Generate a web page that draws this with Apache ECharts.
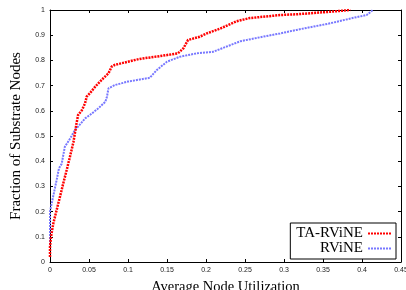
<!DOCTYPE html>
<html>
<head>
<meta charset="utf-8">
<script src="https://cdn.jsdelivr.net/npm/echarts@6/dist/echarts.min.js"></script>
<style>
  html, body { margin: 0; padding: 0; background: #fff; }
  #chart { width: 406px; height: 290px; }
</style>
</head>
<body>
<div id="chart"></div>
<script>
// CDF of average node utilization
const taRvineX = [0, 0, 0.0013, 0.0043, 0.0085, 0.0128, 0.017, 0.0214, 0.0256, 0.03, 0.034, 0.036, 0.041, 0.045, 0.047, 0.051, 0.058, 0.066, 0.075, 0.079, 0.083, 0.1, 0.115, 0.141, 0.164, 0.171, 0.177, 0.192, 0.201, 0.218, 0.239, 0.256, 0.273, 0.295, 0.316, 0.359, 0.385];
const taRvineY = [0.02, 0.06, 0.10, 0.154, 0.206, 0.259, 0.312, 0.365, 0.418, 0.475, 0.55, 0.583, 0.603, 0.63, 0.656, 0.669, 0.696, 0.722, 0.749, 0.775, 0.782, 0.795, 0.806, 0.817, 0.828, 0.848, 0.881, 0.894, 0.907, 0.926, 0.955, 0.968, 0.973, 0.98, 0.983, 0.993, 1.0];

const rvineX = [0, 0, 0.004, 0.0085, 0.0115, 0.015, 0.019, 0.026, 0.032, 0.036, 0.045, 0.051, 0.062, 0.071, 0.073, 0.075, 0.083, 0.1, 0.128, 0.137, 0.15, 0.167, 0.188, 0.209, 0.244, 0.273, 0.295, 0.316, 0.359, 0.389, 0.406, 0.414];
const rvineY = [0.02, 0.2, 0.259, 0.325, 0.372, 0.39, 0.457, 0.491, 0.524, 0.537, 0.57, 0.583, 0.61, 0.636, 0.656, 0.689, 0.702, 0.716, 0.731, 0.762, 0.795, 0.815, 0.828, 0.834, 0.876, 0.894, 0.907, 0.921, 0.947, 0.969, 0.98, 1.0];

const seriesNames = ['TA-RViNE', 'RViNE'];

const zip = (xs, ys) => xs.map((x, i) => [x, ys[i]]);

// dotted strip used as legend key (gnuplot style sample)
const dotIcon = 'path://M0 0h2v2H0zM3 0h2v2H3zM6 0h2v2H6zM9 0h2v2H9zM12 0h2v2h-2zM15 0h2v2h-2zM18 0h2v2h-2zM21 0h2v2h-2z';

const tickFont = { fontFamily: 'Liberation Sans', fontSize: 7, color: '#222' };
const serif = 'Liberation Serif';
const axisLine = { show: true, onZero: false, lineStyle: { color: '#000', width: 1 } };
const tickIn = { show: true, inside: true, length: 3, lineStyle: { color: '#000' } };

const chart = echarts.init(document.getElementById('chart'), null, { renderer: 'canvas' });
chart.setOption({
  animation: false,
  backgroundColor: '#fff',
  grid: { left: 50, right: 5, top: 10, bottom: 28, outerBoundsMode: 'none', containLabel: false },
  xAxis: [
    {
      type: 'value', min: 0, max: 0.45, interval: 0.05,
      axisLine, axisTick: tickIn, splitLine: { show: false },
      axisLabel: { ...tickFont, margin: 5, formatter: v => String(+v.toFixed(2)) },
      name: 'Average Node Utilization', nameLocation: 'middle', nameGap: 18,
      nameTextStyle: { fontFamily: serif, fontSize: 14.5, color: '#000' }
    },
    {
      type: 'value', position: 'top', min: 0, max: 0.45, interval: 0.05,
      axisLine, axisTick: tickIn, axisLabel: { show: false }, splitLine: { show: false }
    }
  ],
  yAxis: [
    {
      type: 'value', min: 0, max: 1, interval: 0.1,
      axisLine, axisTick: tickIn, splitLine: { show: false },
      axisLabel: { ...tickFont, margin: 5, formatter: v => String(+v.toFixed(1)) },
      name: 'Fraction of Substrate Nodes', nameLocation: 'middle', nameGap: 26,
      nameTextStyle: { fontFamily: serif, fontSize: 15, color: '#000' }
    },
    {
      type: 'value', position: 'right', min: 0, max: 1, interval: 0.1,
      axisLine, axisTick: tickIn, axisLabel: { show: false }, splitLine: { show: false }
    }
  ],
  legend: {
    orient: 'vertical', align: 'right',
    right: 10, bottom: 31,
    padding: [3, 5, 3, 6], itemGap: 0,
    itemWidth: 23, itemHeight: 2.5,
    icon: dotIcon,
    borderColor: '#000', borderWidth: 1, borderRadius: 0,
    backgroundColor: '#fff',
    textStyle: { fontFamily: serif, fontSize: 15, color: '#000', lineHeight: 13 },
    data: seriesNames
  },
  series: [
    {
      name: seriesNames[0], type: 'line', symbol: 'none',
      data: zip(taRvineX, taRvineY),
      lineStyle: { color: '#ff0000', width: 2.5, type: [2, 1] },
      itemStyle: { color: '#ff0000' }, z: 3
    },
    {
      name: seriesNames[1], type: 'line', symbol: 'none',
      data: zip(rvineX, rvineY),
      lineStyle: { color: '#7878ff', width: 2, type: [2, 1] },
      itemStyle: { color: '#7878ff' }, z: 2
    }
  ]
});
</script>
</body>
</html>
